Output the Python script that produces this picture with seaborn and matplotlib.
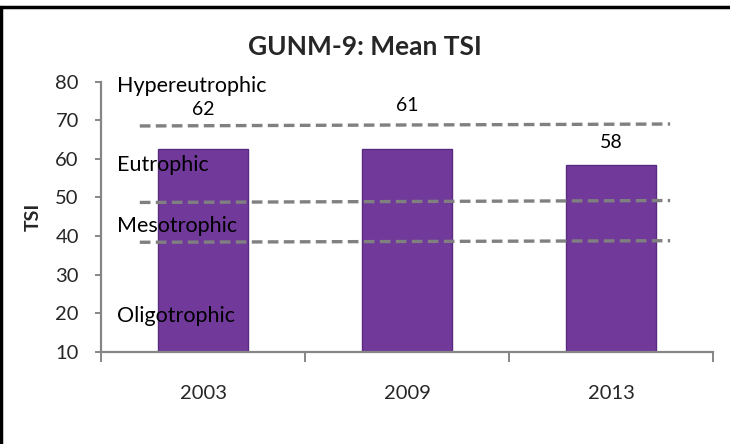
import matplotlib
matplotlib.use("Agg")
import matplotlib.pyplot as plt
import seaborn as sns
import pandas as pd
from matplotlib.lines import Line2D

# ---- data ----
years = ["2003", "2009", "2013"]
bar_heights = [62.5, 62.5, 58.4]
value_labels = ["62", "61", "58"]
label_y = [72.7, 73.8, 64.2]

# trophic boundaries (dashed lines drawn slightly tilted in the original)
bound_left = [68.5, 48.7, 38.4]
bound_right = [69.0, 49.2, 38.8]
bound_x = [-0.31, 2.29]

zone_names = ["Hypereutrophic", "Eutrophic", "Mesotrophic", "Oligotrophic"]
zone_y = [78.9, 58.4, 42.6, 19.2]

yticks = [10, 20, 30, 40, 50, 60, 70, 80]

sns.set_theme(style="white")
plt.rcParams["font.family"] = ["Lato", "DejaVu Sans"]

df = pd.DataFrame({"year": years, "tsi": bar_heights})

fig = plt.figure(figsize=(7.3, 4.44), dpi=100)
ax = fig.add_axes([0.1384, 0.2072, 0.8383, 0.6092])

AXIS = "#868686"
sns.barplot(data=df, x="year", y="tsi", color="#70399A", saturation=1,
            width=0.44, edgecolor="#5A2A80", linewidth=1.0, ax=ax, zorder=2)

for lo, hi in zip(bound_left, bound_right):
    ax.plot(bound_x, [lo, hi], color="#808080", lw=2.4,
            linestyle=(0, (3.2, 1.6)), zorder=3)

for i, (txt, yy) in enumerate(zip(value_labels, label_y)):
    ax.text(i, yy, txt, ha="center", va="center", fontsize=14, color="black", zorder=4)

for name, yy in zip(zone_names, zone_y):
    ax.text(-0.42, yy, name, ha="left", va="center", fontsize=15.5, color="black", zorder=4)

ax.set_xlim(-0.5, 2.5)
ax.set_ylim(10, 80)
ax.set_yticks(yticks)
ax.set_xticks([0, 1, 2])
ax.set_xticklabels(years)
ax.set_xticks([-0.5, 0.5, 1.5, 2.5], minor=True)

ax.set_xlabel("")
ax.set_ylabel("TSI", fontsize=14, fontweight="bold")
ax.yaxis.set_label_coords(-0.097, 0.5)

for side in ["top", "right"]:
    ax.spines[side].set_visible(False)
for side in ["left", "bottom"]:
    ax.spines[side].set_color(AXIS)
    ax.spines[side].set_linewidth(1.6)

ax.tick_params(axis="y", which="major", direction="out", length=4, width=1.4,
               color=AXIS, labelsize=14.5, pad=12, left=True)
ax.tick_params(axis="x", which="major", direction="in", length=4, width=1.4,
               color=AXIS, labelsize=14.5, pad=24, bottom=True)
ax.tick_params(axis="x", which="minor", direction="out", length=7, width=1.4,
               color=AXIS, bottom=True)

fig.text(0.5, 0.894, "GUNM-9: Mean TSI", ha="center", va="center",
         fontsize=19, fontweight="bold")

# chart frame (only top and left edges visible in the crop)
fig.add_artist(Line2D([0, 1], [0.984, 0.984], color="black", lw=2.5, transform=fig.transFigure))
fig.add_artist(Line2D([0.002, 0.002], [0, 0.984], color="black", lw=2.5, transform=fig.transFigure))

fig.savefig("out.png", dpi=100)
